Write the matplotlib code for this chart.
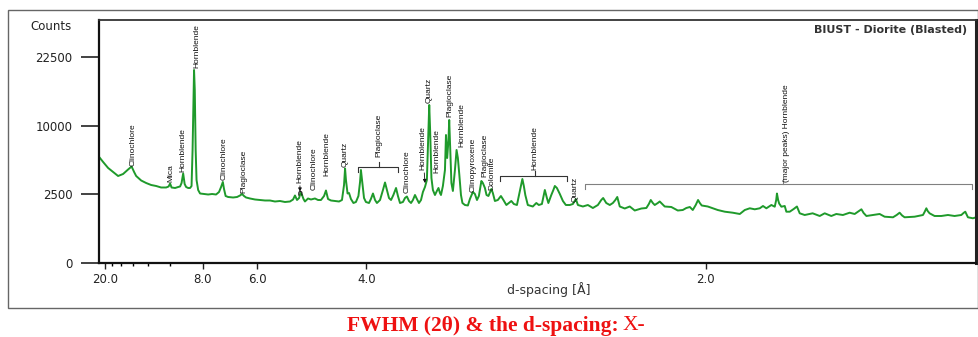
import matplotlib
matplotlib.use("Agg")
import matplotlib.pyplot as plt
import numpy as np
from matplotlib.patches import Rectangle
from matplotlib.transforms import blended_transform_factory

# ---------------- data (2-theta in degrees, Cu K-alpha; intensity in counts) -------------
two_theta = [4.01, 4.28, 4.62, 4.96, 5.30, 5.64, 5.98, 6.22, 6.39, 6.53, 6.87, 7.21, 7.55, 7.89,
             8.23, 8.57, 8.74, 8.84, 8.94, 9.18, 9.39, 9.52, 9.62, 9.73, 9.83, 9.93, 10.07, 10.20,
             10.30, 10.37, 10.44, 10.47, 10.52, 10.58, 10.64, 10.75, 10.88, 11.15, 11.43, 11.70,
             11.97, 12.17, 12.31, 12.43, 12.51, 12.62,
             12.79, 13.13, 13.40, 13.60, 13.74, 13.87, 14.01, 14.28, 14.62, 14.96, 15.30, 15.64,
             15.98, 16.32, 16.66, 17.00, 17.21, 17.34, 17.48, 17.62, 17.72, 17.82, 17.92, 18.02,
             18.23, 18.43, 18.70, 18.91, 19.11, 19.32, 19.45, 19.59, 19.79, 20.07, 20.34, 20.54,
             20.68, 20.75, 20.81, 20.92,
             21.02, 21.15, 21.32, 21.49, 21.66, 21.77, 21.83, 21.94, 22.04, 22.17, 22.38, 22.51,
             22.65, 22.79, 22.92, 23.13, 23.33, 23.47, 23.60, 23.74, 23.88, 24.04, 24.22, 24.35,
             24.49, 24.69, 24.83, 24.96, 25.10, 25.24, 25.37, 25.51, 25.64, 25.78, 25.92, 26.05,
             26.19, 26.32, 26.43, 26.48, 26.54, 26.63, 26.73, 26.87, 27.00, 27.11, 27.21, 27.28,
             27.41, 27.55, 27.62, 27.70, 27.79, 27.84, 27.91, 27.99, 28.09, 28.23, 28.34, 28.43,
             28.53, 28.64, 28.74, 28.91, 29.11,
             29.25, 29.45, 29.59, 29.73, 29.86, 30.03, 30.13, 30.27, 30.38, 30.51, 30.71, 30.81,
             30.95, 31.15, 31.36, 31.53, 31.73, 31.90, 32.07, 32.24, 32.45, 32.65, 32.82, 32.92,
             33.02, 33.19, 33.53, 33.77, 33.94, 34.15, 34.35, 34.49, 34.59, 34.79, 34.93, 35.03,
             35.17, 35.37, 35.58, 35.78, 36.05, 36.26, 36.46, 36.60, 36.94, 37.28, 37.62, 37.96,
             38.19, 38.32, 38.53, 38.77, 38.98, 39.15, 39.28, 39.45, 39.79, 40.13, 40.47, 40.92,
             41.26, 41.43, 41.56, 41.70, 41.83, 42.04, 42.17, 42.34, 42.51, 42.96, 43.40, 43.74,
             43.98, 44.22, 44.42, 44.62, 44.78, 44.90, 45.03, 45.44, 45.78, 46.12, 46.60,
             47.14, 47.62, 47.96, 48.30, 48.64, 48.98, 49.20, 49.43, 49.77, 50.00, 50.10, 50.15,
             50.23, 50.30, 50.45, 50.68, 50.79, 51.02, 51.29, 51.51, 51.70, 52.04, 52.58, 53.06,
             53.40, 53.85, 54.19, 54.64, 55.10,
             55.44, 55.64, 55.90, 56.05, 56.24, 56.68, 57.14, 57.48, 58.05, 58.30, 58.50, 58.67,
             58.84, 59.52, 60.09, 60.20, 60.32, 60.41, 60.54, 60.88, 61.34, 61.79, 62.24, 62.70,
             62.85, 62.97, 63.15, 63.49, 63.71]

counts = [5970, 5420, 4800, 4400, 4025, 4212, 4647, 4949, 4402, 4025, 3621, 3405, 3238, 3156,
          3035, 3035, 3115, 3363, 3035, 2995, 3075, 3115, 3405, 4259, 3321, 3075, 2995, 2995,
          3156, 6780, 15862, 19734, 15862, 6780, 3665, 2838, 2573, 2536, 2500, 2536,
          2500, 2685, 3075, 3491, 2916, 2392,
          2322, 2287, 2322, 2428, 2536, 2392, 2287, 2218, 2150, 2116, 2083, 2083,
          2017, 2050, 1985, 2017, 2150, 2428, 2116, 2252, 2610, 2464, 2184, 2017,
          2218, 2150, 2218, 2116, 2116, 2392, 2799, 2184, 2083, 2050, 2017, 2116,
          3238, 4746, 3665, 2573,
          2610, 2184, 1920, 1985, 2392, 3491, 4597, 3238, 2252, 1985, 1920, 2184,
          2573, 2116, 1920, 2116, 2838, 3448, 2838, 2252, 2116, 2464, 2995, 2392,
          1920, 1985, 2252, 2357, 2050, 1920, 2116, 2464, 2184, 1920, 2116, 2685,
          3075, 3665, 9385, 13235, 9385, 3843, 2838, 2464, 2761, 2995, 2610, 2464,
          3156, 4597, 8694, 5856, 8029, 10845, 6780, 3405, 2761, 4597, 6780, 5856,
          4118, 2464, 1920, 1795, 1765,
          2184, 2685, 2536, 2116, 2392, 3577, 3405, 2995, 2464, 2392, 2916, 2610,
          2050, 2116, 2392, 2116, 1795, 1920, 2050, 1857, 1795, 2761, 3753, 3156,
          2464, 1795, 1704, 1920, 1795, 1857, 2838, 2252, 1920, 2464, 2838, 3156,
          2995, 2536, 2050, 1795, 1795, 1857, 2184, 1795, 1704, 1795, 1615, 1795,
          2116, 2252, 1920, 1795, 1920, 2116, 2322, 1704, 1586, 1704, 1472, 1586,
          1615, 1857, 2116, 1920, 1795, 1920, 2017, 1857, 1704, 1674, 1472, 1500,
          1615, 1674, 1500, 1795, 2116, 1920, 1765, 1704, 1598, 1500, 1406,
          1352, 1284, 1500, 1598, 1540, 1598, 1734, 1598, 1795, 1692, 2116, 2573,
          2116, 1889, 1692, 1734, 1406, 1406, 1557, 1704, 1320, 1232, 1320, 1182,
          1320, 1182, 1284, 1232, 1352,
          1284, 1390, 1540, 1336, 1182, 1232, 1284, 1147, 1118, 1232, 1352, 1207,
          1118, 1147, 1232, 1390, 1598, 1445, 1320, 1182, 1182, 1232, 1182, 1232,
          1336, 1406, 1118, 1070, 1118]

# axis ticks
d_major = [20.0, 8.0, 6.0, 4.0, 2.0]
d_major_labels = ["20.0", "8.0", "6.0", "4.0", "2.0"]
d_minor = [18.0, 16.0, 14.0, 12.0, 10.0]
y_ticks = [0, 2500, 10000, 22500]
y_tick_labels = ["0", "2500", "10000", "22500"]

# phase labels: (text, 2-theta, bottom of text as axes fraction)
phase_labels = [
    ("Clinochlore", 6.32, 0.398),
    ("Mica", 8.91, 0.334),
    ("Hornblende", 9.73, 0.375),
    ("Hornblende", 10.64, 0.803),
    ("Clinochlore", 12.55, 0.342),
    ("Plagioclase", 13.87, 0.289),
    ("Clinochlore", 18.64, 0.300),
    ("Hornblende", 19.52, 0.359),
    ("Quartz", 20.75, 0.396),
    ("Plagioclase", 23.08, 0.437),
    ("Clinochlore", 24.98, 0.289),
    ("Quartz", 26.48, 0.658),
    ("Hornblende", 27.02, 0.371),
    ("Plagioclase", 27.89, 0.601),
    ("Hornblende", 28.68, 0.478),
    ("Clinopyroxene", 29.47, 0.294),
    ("Plagioclase", 30.27, 0.356),
    ("Dolomite", 30.73, 0.301),
    ("Hornblende", 33.67, 0.383),
    ("Quartz", 36.39, 0.253),
    ("(major peaks) Hornblende", 50.79, 0.335),
]
# labels with arrows: (text, text 2-theta, text bottom, arrow tip 2-theta, arrow tip frac)
arrow_labels = [
    ("Hornblende", 17.68, 0.330, 17.68, 0.295),
    ("Hornblende", 26.03, 0.383, 26.19, 0.330),
]
# brackets: (start 2-theta, end 2-theta, level, centre 2-theta, colour)
brackets = [
    (21.61, 24.37, 0.397, 23.08, "#333333"),
    (31.29, 35.83, 0.359, 33.67, "#333333"),
    (37.07, 63.40, 0.326, 50.56, "#808080"),
]

WAVELENGTH = 1.5406


def d_to_two_theta(d):
    return 2.0 * np.degrees(np.arcsin(WAVELENGTH / (2.0 * np.asarray(d))))


W, H = 979, 337
fig = plt.figure(figsize=(W / 100, H / 100), dpi=100)
plt.rcParams["font.family"] = ["DejaVu Sans"]
LABEL_FONT = ["Liberation Sans", "DejaVu Sans"]

ax = fig.add_axes([99 / W, 1 - 263.3 / H, (976 - 99) / W, (263.3 - 20) / H])
ax.set_yscale("function", functions=(lambda v: np.sqrt(np.clip(v, 0, None)), np.square))
ax.plot(two_theta, counts, color="#1f9a2b", lw=1.4)
ax.set_xlim(4.0, 63.7)
ax.set_ylim(0, 31260)

ax.set_xticks(d_to_two_theta(d_major))
ax.set_xticklabels(d_major_labels)
ax.set_xticks(d_to_two_theta(d_minor), minor=True)
ax.set_yticks(y_ticks)
ax.set_yticklabels(y_tick_labels)
ax.yaxis.set_minor_locator(matplotlib.ticker.NullLocator())
ax.tick_params(axis="y", direction="out", length=13, width=1.2, pad=6,
               labelsize=8.5, colors="#222222")
ax.tick_params(axis="x", which="major", direction="out", length=4, width=1.0, pad=3,
               labelsize=8.5, colors="#222222")
ax.tick_params(axis="x", which="minor", direction="out", length=2.5, width=1.0)

for side, lw, col in [("left", 1.6, "#111111"), ("bottom", 1.6, "#111111"),
                      ("top", 1.3, "#333333"), ("right", 2.2, "#222222")]:
    ax.spines[side].set_linewidth(lw)
    ax.spines[side].set_color(col)

tr = blended_transform_factory(ax.transData, ax.transAxes)
for txt, x, yb in phase_labels:
    ax.text(x, yb, txt, transform=tr, rotation=90, ha="center", va="bottom",
            fontsize=6, color="#111111", family=LABEL_FONT)
for txt, x, yb, xa, ya in arrow_labels:
    ax.annotate(txt, xy=(xa, ya), xycoords=tr, xytext=(x, yb), textcoords=tr,
                rotation=90, ha="center", va="bottom", fontsize=6, color="#111111",
                family=LABEL_FONT,
                arrowprops=dict(arrowstyle="-|>", color="#111111", lw=0.6,
                                mutation_scale=5, shrinkA=0, shrinkB=0))
for x0, x1, lev, xc, col in brackets:
    ax.plot([x0, x0, x1, x1], [lev - 0.02, lev, lev, lev - 0.02], transform=tr,
            color=col, lw=0.8, clip_on=False)
    ax.plot([xc, xc], [lev, lev + 0.02], transform=tr, color=col, lw=0.8)
ax.text(17.68, 0.29, "\u2229", transform=tr, ha="center", va="center",
        fontsize=6, fontweight="bold", color="#111111")

ax.text(0.9897, 0.959, "BIUST - Diorite (Blasted)", transform=ax.transAxes,
        ha="right", va="center", fontsize=8, fontweight="bold", color="#333333")

fig.text(51.5 / W, 1 - 26 / H, "Counts", ha="center", va="center", fontsize=8.5,
         color="#222222")
fig.text(549 / W, 1 - 290 / H, "d-spacing [\u00c5]", ha="center", va="center",
         fontsize=9, color="#333333")

fig.patches.append(Rectangle((8 / W, 1 - 308 / H), (978 - 8) / W, (308 - 10) / H,
                             transform=fig.transFigure, fill=False, ec="#666666",
                             lw=1.0, zorder=-1))

fig.text(619 / W, 1 - 325.7 / H, "FWHM (2\u03b8) & the d-spacing:", ha="right",
         va="center", fontsize=15.5, fontweight="bold", color="#ee1111",
         family=["Liberation Serif", "DejaVu Serif"])
fig.text(623 / W, 1 - 325.7 / H, "X-", ha="left", va="center", fontsize=15.5,
         color="#ee1111", family=["Liberation Serif", "DejaVu Serif"])

fig.savefig("out.png", dpi=100)
